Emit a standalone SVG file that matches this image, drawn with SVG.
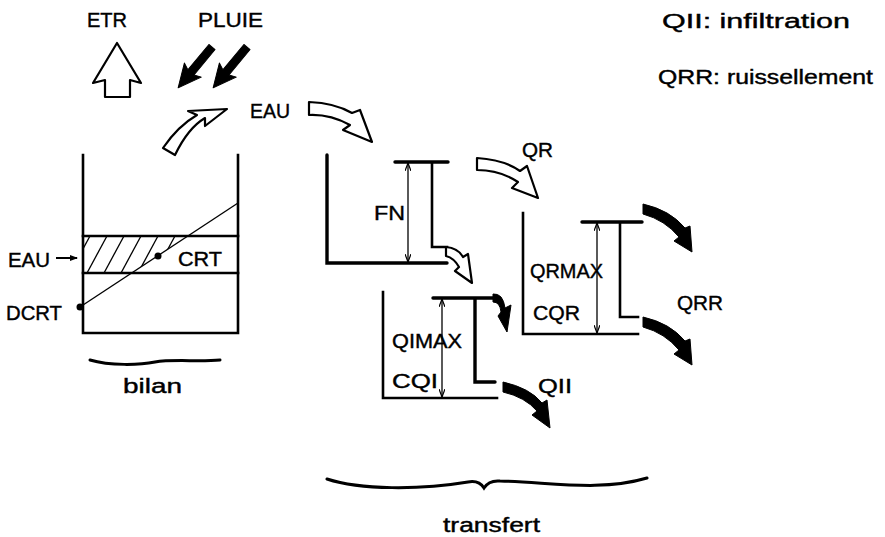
<svg xmlns="http://www.w3.org/2000/svg" width="885" height="537" viewBox="0 0 885 537">
<style>
text{font-family:"Liberation Sans","DejaVu Sans",sans-serif;font-size:20px;fill:#000;stroke:#000;stroke-width:0.4}
.wall{fill:none;stroke:#000;stroke-width:2.6;stroke-linecap:square}
.thick{fill:none;stroke:#000;stroke-width:3.4;stroke-linecap:round}
.thin{fill:none;stroke:#000;stroke-width:1.3}
.dim{fill:none;stroke:#000;stroke-width:1.3;marker-start:url(#dh);marker-end:url(#dh)}
.hollow{fill:#fff;stroke:#000;stroke-width:2.2;stroke-linejoin:round}
.solid{fill:#000;stroke:#000;stroke-width:1;stroke-linejoin:round}
.brace{fill:none;stroke:#000;stroke-width:3;stroke-linecap:round}
</style>
<defs>
<marker id="dh" viewBox="0 0 8 6" refX="8" refY="3" markerWidth="8" markerHeight="6" markerUnits="userSpaceOnUse" orient="auto-start-reverse"><path d="M0,0 L8,3 L0,6" fill="none" stroke="#000" stroke-width="1.2"/></marker>
<marker id="ah" viewBox="0 0 8 6" refX="7" refY="3" markerWidth="8" markerHeight="6" markerUnits="userSpaceOnUse" orient="auto"><path d="M0,0 L8,3 L0,6 Z" fill="#000"/></marker>
<clipPath id="hatchclip"><polygon points="83,236 188,236 132,273 83,273"/></clipPath>
</defs>

<g id="legend">
<text x="662" y="28" textLength="188" lengthAdjust="spacingAndGlyphs">QII: infiltration</text>
<text x="658" y="84" textLength="215" lengthAdjust="spacingAndGlyphs">QRR: ruissellement</text>
</g>

<g id="etr">
<text x="87" y="27" textLength="40" lengthAdjust="spacingAndGlyphs">ETR</text>
<polygon class="hollow" points="117,43 141,83 130,80 130,97 105,97 105,80 93,83"/>
</g>

<g id="pluie">
<text x="198" y="27" textLength="65" lengthAdjust="spacingAndGlyphs">PLUIE</text>
<polygon class="solid" transform="translate(212,47) rotate(129.7)" points="0,-4 33,-4 30,-11 53,0 30,11 33,4 0,4"/>
<polygon class="solid" transform="translate(247,47) rotate(129.7)" points="0,-4 33,-4 30,-11 53,0 30,11 33,4 0,4"/>
</g>

<g id="bilan">
<g clip-path="url(#hatchclip)" class="thin">
<line x1="53" y1="273" x2="73" y2="236"/>
<line x1="70" y1="273" x2="90" y2="236"/>
<line x1="87" y1="273" x2="107" y2="236"/>
<line x1="104" y1="273" x2="124" y2="236"/>
<line x1="121" y1="273" x2="141" y2="236"/>
<line x1="138" y1="273" x2="158" y2="236"/>
<line x1="155" y1="273" x2="175" y2="236"/>
<line x1="172" y1="273" x2="192" y2="236"/>
</g>
<line class="wall" x1="83" y1="236" x2="238" y2="236"/>
<line class="wall" x1="83" y1="273" x2="238" y2="273"/>
<polyline class="wall" points="83,155 83,333 238,333 238,155"/>
<line class="thin" x1="80" y1="307" x2="238" y2="203"/>
<circle cx="80" cy="307" r="3.5"/>
<circle cx="158" cy="256" r="3.5"/>
<text x="178" y="266" textLength="44" lengthAdjust="spacingAndGlyphs">CRT</text>
<text x="8" y="267" textLength="42" lengthAdjust="spacingAndGlyphs">EAU</text>
<line x1="56" y1="258" x2="77" y2="258" stroke="#000" stroke-width="2" marker-end="url(#ah)"/>
<text x="6" y="320" textLength="56" lengthAdjust="spacingAndGlyphs">DCRT</text>
<path class="brace" d="M90,360 C110,366 140,365 155,362 C172,359 200,362 220,360"/>
<text x="123" y="393" textLength="59" lengthAdjust="spacingAndGlyphs">bilan</text>
</g>

<g id="eau">
<text x="250" y="118" textLength="40" lengthAdjust="spacingAndGlyphs">EAU</text>
</g>

<g id="fn">
<polyline class="thick" points="327,155 327,263 447,263"/>
<line class="thick" x1="395" y1="162" x2="448" y2="162"/>
<polyline class="wall" points="432,163 432,247 447,247"/>
<line class="dim" x1="408" y1="163" x2="408" y2="262"/>
<text x="374" y="220" textLength="31" lengthAdjust="spacingAndGlyphs">FN</text>
</g>

<g id="qr">
<polyline class="wall" points="523,213 523,334 638,334"/>
<line class="thick" x1="582" y1="222" x2="642" y2="222"/>
<polyline class="wall" points="620,223 620,317 638,317"/>
<line class="dim" x1="597" y1="223" x2="597" y2="333"/>
<text x="530" y="278" textLength="73" lengthAdjust="spacingAndGlyphs">QRMAX</text>
<text x="533" y="320" textLength="47" lengthAdjust="spacingAndGlyphs">CQR</text>
<text x="522" y="157" textLength="31" lengthAdjust="spacingAndGlyphs">QR</text>
<text x="677" y="310" textLength="46" lengthAdjust="spacingAndGlyphs">QRR</text>
</g>

<g id="qi">
<polyline class="wall" points="383,292 383,398 497,398"/>
<line class="thick" x1="433" y1="298" x2="493" y2="298"/>
<polyline class="thick" points="475,299 475,382 495,382"/>
<line class="dim" x1="442" y1="299" x2="442" y2="397"/>
<text x="392" y="348" textLength="70" lengthAdjust="spacingAndGlyphs">QIMAX</text>
<text x="392" y="388" textLength="46" lengthAdjust="spacingAndGlyphs">CQI</text>
<text x="538" y="393" textLength="34" lengthAdjust="spacingAndGlyphs">QII</text>
</g>

<g id="transfert">
<path class="brace" d="M327,479 C360,490 420,490 468,482 Q479,480 484,488 Q489,480 500,481 C550,482 600,492 647,478"/>
<text x="443" y="532" textLength="97" lengthAdjust="spacingAndGlyphs">transfert</text>
</g>

<g id="connectors">
<path class="hollow" d="M163,148 Q178,126 197,115 L188,111 L227,109 L205,126 L205,118 Q188,128 175,155 Z"/>
<path class="hollow" d="M309,102 Q335,103 352,113 L360,110 L372,142 L343,130 L350,125 Q330,114 309,115 Z"/>
<path class="hollow" d="M477,158 Q505,160 520,171 L527,166 L538,198 L512,188 L518,182 Q500,170 477,170 Z"/>
<path class="hollow" d="M446,247 Q458,248 463,257 L468,254 L472,283 L455,271 L459,267 Q454,258 446,256 Z"/>
<path class="solid" d="M643,204 Q670,210 685,228 L690,226 L692,252 L674,241 L679,237 Q665,220 643,214 Z"/>
<path class="solid" d="M643,317 Q670,323 685,341 L690,339 L692,365 L674,354 L679,350 Q665,333 643,327 Z"/>
<path class="solid" d="M503,382 Q530,388 542,403 L547,400 L550,428 L532,415 L537,411 Q525,397 503,392 Z"/>
<path class="solid" d="M493,294 Q503,293 505,308 L511,305 L507,332 L498,316 L501,312 Q500,302 493,302 Z"/>
</g>
</svg>
